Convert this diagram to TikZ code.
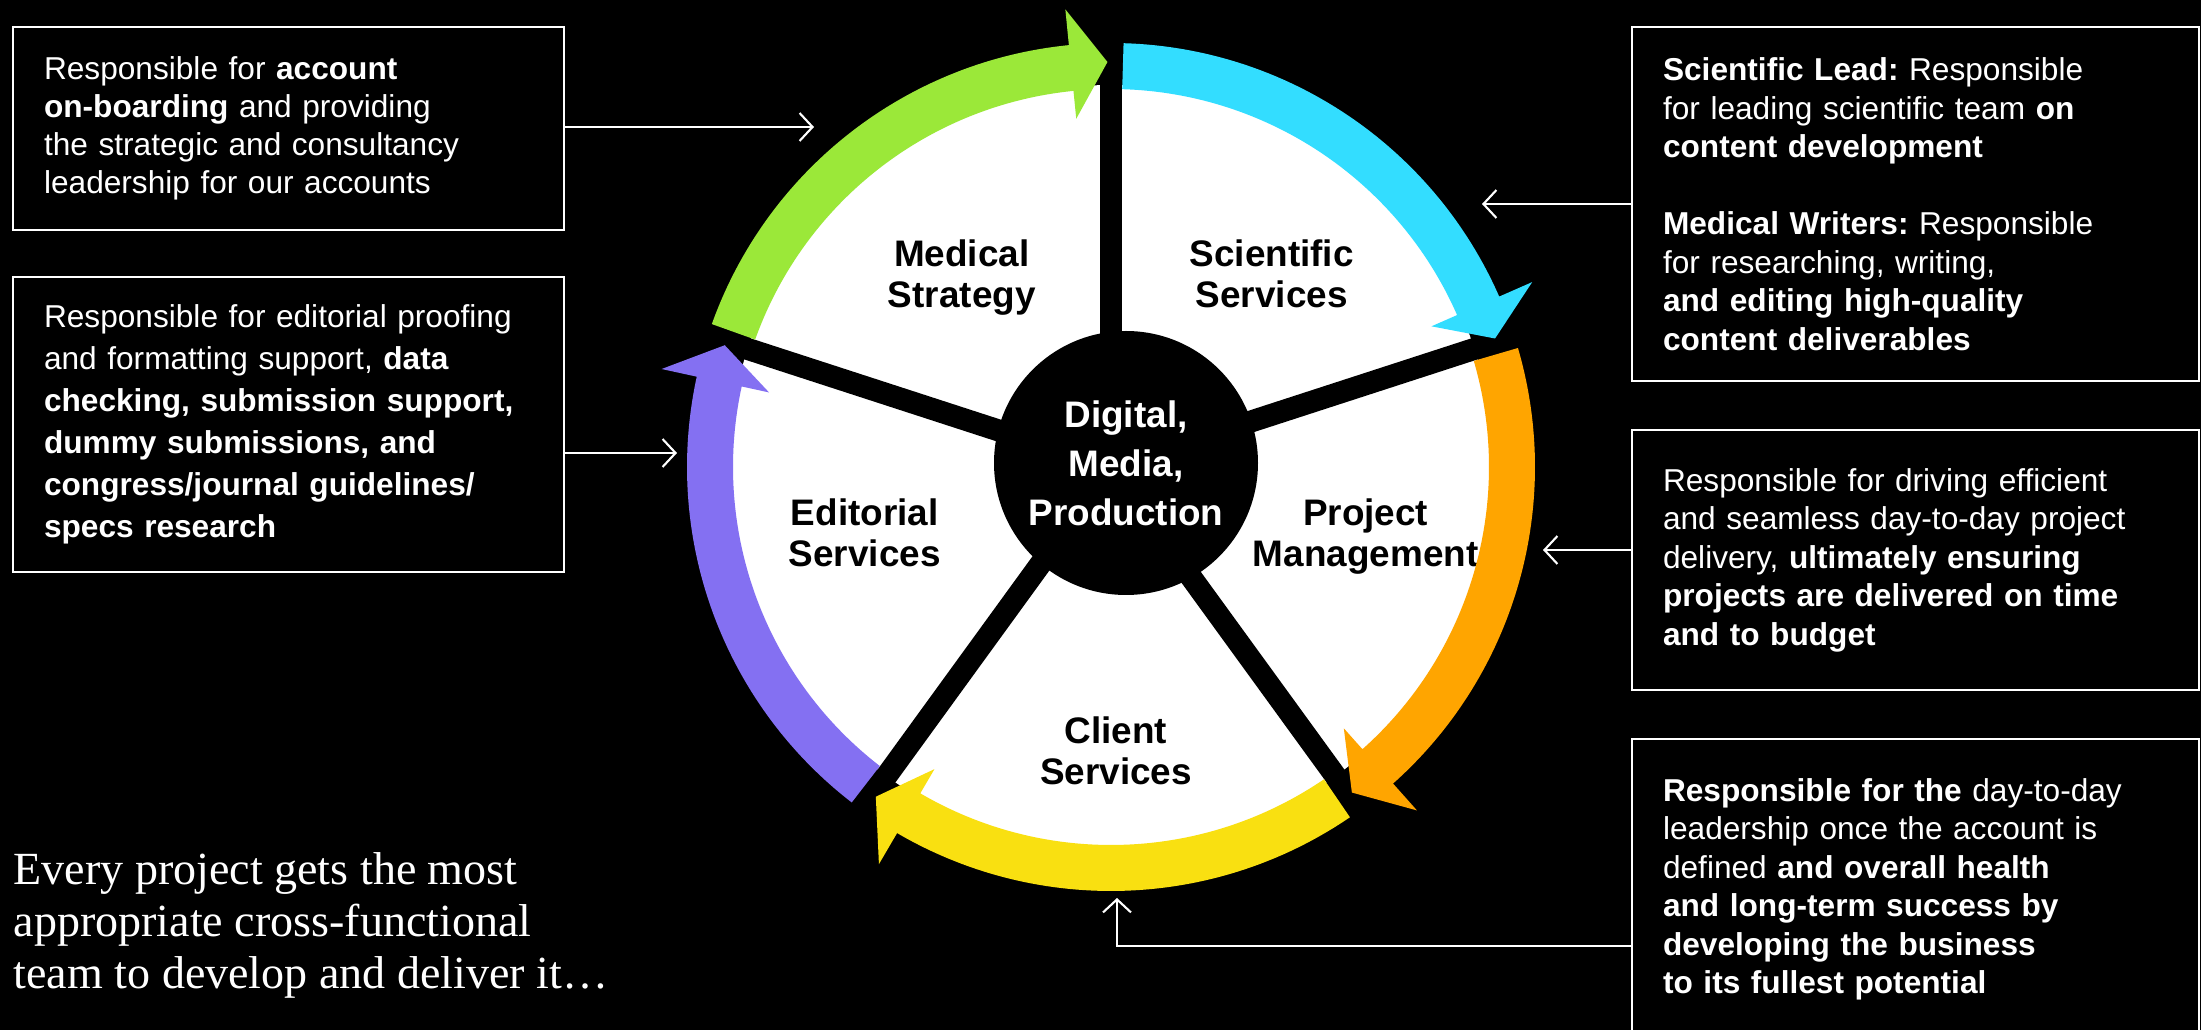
\documentclass[tikz,border=0pt]{standalone}
\usepackage{fontspec}
\setmainfont{Liberation Sans}
\newfontfamily\quotefont{Liberation Serif}
\usetikzlibrary{positioning,calc,arrows.meta}
\frenchspacing

\definecolor{msgreen}{HTML}{9BE839}
\definecolor{sscyan}{HTML}{33DDFF}
\definecolor{pmorange}{HTML}{FFA500}
\definecolor{csyellow}{HTML}{F9E011}
\definecolor{espurple}{HTML}{8470F2}

\newcommand\ringout{4.24}
\newcommand\ringin{3.78}
\newcommand\headout{4.60}
\newcommand\headin{3.50}
\newcommand\tipr{4.05}

\tikzset{
  infobox/.style = {draw=white, line width=0.6pt, text=white, align=left,
    inner xsep=0.31cm, inner ysep=0pt, anchor=north west,
    font=\fontsize{9}{10.8}\selectfont},
  segment/.style = {text=black, align=center,
    font=\bfseries\fontsize{10.5}{11.7}\selectfont},
  hub/.style = {circle, fill=black, minimum size=2.64cm, inner sep=0pt,
    text=white, align=center, font=\bfseries\fontsize{10.5}{13.9}\selectfont},
  spoke/.style = {black, line width=0.22cm},
  pointer/.style = {white, line width=0.6pt,
    -{Straight Barb[length=1.3mm, width=2.8mm]}},
  motto/.style = {text=white, align=left, inner sep=0pt, anchor=north west,
    font=\quotefont\fontsize{13.1}{14.8}\selectfont},
}

\begin{document}
\begin{tikzpicture}
    \useasboundingbox (0,0) rectangle (22.01,10.30);
    \fill[black] (0,0) rectangle (22.01,10.30);

    % wheel
    \coordinate (C) at (11.11,5.63);
    \fill[white] (C) circle (3.82);
    \foreach \h in {90,18,-54,-126,162}
      \draw[spoke] (C) -- ++(\h:3.9);
    \node[hub] (hub) at (11.26,5.67) {Digital,\\Media,\\Production};

    \node[segment] (medstrat) at ($(C)+(127.7:2.44)+(0,-0.04)$) {Medical\\Strategy};
    \node[segment] (sciserv) at ($(C)+(50.2:2.51)$) {Scientific\\Services};
    \node[segment] (projman) at ($(C)+(-14.5:2.63)+(0,-0.04)$) {Project\\Management};
    \node[segment] (cliserv) at ($(C)+(-89:2.84)$) {Client\\Services};
    \node[segment] (editserv) at ($(C)+(195:2.55)$) {Editorial\\Services};

    \foreach \h/\col in {90/msgreen, 18/sscyan, -54/pmorange, -126/csyellow, 162/espurple}
      \fill[\col] ($(C)+({\h+70.3}:\ringout)$)
        arc[start angle=\h+70.3, end angle=\h+5.7, radius=\ringout]
        -- ($(C)+({\h+5.7}:\headout)$) -- ($(C)+({\h+0.5}:\tipr)$)
        -- ($(C)+({\h+5.7}:\headin)$) -- ($(C)+({\h+5.7}:\ringin)$)
        arc[start angle=\h+5.7, end angle=\h+70.3, radius=\ringin] -- cycle;

    % left boxes
    \node[infobox, text width=4.89cm, minimum height=2.03cm] (box1) at (0.12,10.04)
      {Responsible for \textbf{account}\\
       \textbf{on-boarding} and providing\\
       the strategic and consultancy\\
       leadership for our accounts};
    \node[infobox, text width=4.89cm, minimum height=2.95cm,
          font=\fontsize{9}{11.95}\selectfont, below=0.45cm of box1] (box2)
      {Responsible for editorial proofing\\
       and formatting support, \textbf{data}\\
       \textbf{checking, submission support,}\\
       \textbf{dummy submissions, and}\\
       \textbf{congress/journal guidelines/}\\
       \textbf{specs research}};

    % right boxes
    \node[infobox, text width=5.05cm, minimum height=3.54cm,
          font=\fontsize{9}{10.95}\selectfont] (boxA) at (16.31,10.04)
      {\textbf{Scientific Lead:} Responsible\\
       for leading scientific team \textbf{on}\\
       \textbf{content development}\\[0.385cm]
       \textbf{Medical Writers:} Responsible\\
       for researching, writing,\\
       \textbf{and editing high-quality}\\
       \textbf{content deliverables}};
    \node[infobox, text width=5.05cm, minimum height=2.60cm,
          font=\fontsize{9}{10.95}\selectfont, below=0.47cm of boxA] (boxB)
      {Responsible for driving efficient\\
       and seamless day-to-day project\\
       delivery, \textbf{ultimately ensuring}\\
       \textbf{projects are delivered on time}\\
       \textbf{and to budget}};
    \node[infobox, text width=5.05cm, minimum height=3.00cm,
          font=\fontsize{9}{10.95}\selectfont, below=0.47cm of boxB] (boxC)
      {\textbf{Responsible for the} day-to-day\\
       leadership once the account is\\
       defined \textbf{and overall health}\\
       \textbf{and long-term success by}\\
       \textbf{developing the business}\\
       \textbf{to its fullest potential}};

    % pointers
    \coordinate (mstip) at (8.14,9.03);
    \coordinate (estip) at (6.77,5.77);
    \coordinate (sstip) at (14.82,8.26);
    \coordinate (pmtip) at (15.43,4.80);
    \coordinate (cstip) at (11.17,1.32);
    \coordinate (csbend) at (11.17,0.84);
    \draw[pointer] (box1.east |- mstip) -- (mstip);
    \draw[pointer] (box2.east |- estip) -- (estip);
    \draw[pointer] (boxA.west |- sstip) -- (sstip);
    \draw[pointer] (boxB.west |- pmtip) -- (pmtip);
    \draw[pointer] (boxC.west |- csbend) -- (csbend) -- (cstip);

    \node[motto] (tagline) at (0.13,1.78)
      {Every project gets the most\\
       appropriate cross-functional\\
       team to develop and deliver it…};
\end{tikzpicture}
\end{document}
